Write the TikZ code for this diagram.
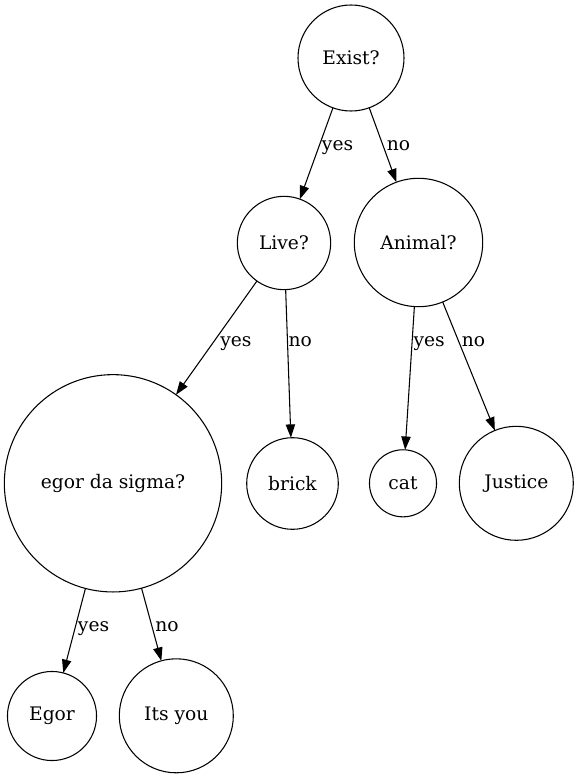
\documentclass[tikz,border=0pt]{standalone}
\usepackage{fontspec}
\setmainfont{DejaVu Serif}
\usetikzlibrary{arrows.meta}
\begin{document}
\begin{tikzpicture}[x=0.75pt,y=-0.75pt,
  every node/.style={font=\fontsize{14pt}{16pt}\selectfont},
  vert/.style={circle,draw,line width=0.8pt,inner sep=0pt,outer sep=0pt},
  edge/.style={line width=0.8pt,-{Triangle[length=10pt,width=7pt]}},
  lbl/.style={anchor=base west,inner sep=0pt}]
\useasboundingbox (0,0) rectangle (578,778);
\node[vert,minimum size=79.5pt] (exist) at (351,58) {Exist?};
\node[vert,minimum size=70pt] (live) at (284,243) {Live?};
\node[vert,minimum size=96.3pt] (animal) at (418.5,242.5) {Animal?};
\node[vert,minimum size=163pt] (sigma) at (113,483.3) {egor da sigma?};
\node[vert,minimum size=68.7pt] (brick) at (292.5,483.5) {brick};
\node[vert,minimum size=50.3pt] (cat) at (403,483.3) {cat};
\node[vert,minimum size=85.5pt] (justice) at (516.3,483.3) {Justice};
\node[vert,minimum size=66.8pt] (egor) at (52,716) {Egor};
\node[vert,minimum size=85.5pt] (you) at (176.3,715.8) {Its you};
\draw[edge] (exist) -- (live);
\draw[edge] (exist) -- (animal);
\draw[edge] (live) -- (sigma);
\draw[edge] (live) -- (brick);
\draw[edge] (animal) -- (cat);
\draw[edge] (animal) -- (justice);
\draw[edge] (sigma) -- (egor);
\draw[edge] (sigma) -- (you);
\node[lbl] (l1) at (321.7,150) {yes};
\node[lbl] (l2) at (386.7,150) {no};
\node[lbl] (l3) at (220,346) {yes};
\node[lbl] (l4) at (288.3,346) {no};
\node[lbl] (l5) at (413.3,346) {yes};
\node[lbl] (l6) at (461.7,346) {no};
\node[lbl] (l7) at (77.7,631) {yes};
\node[lbl] (l8) at (155,631) {no};
\end{tikzpicture}
\end{document}
